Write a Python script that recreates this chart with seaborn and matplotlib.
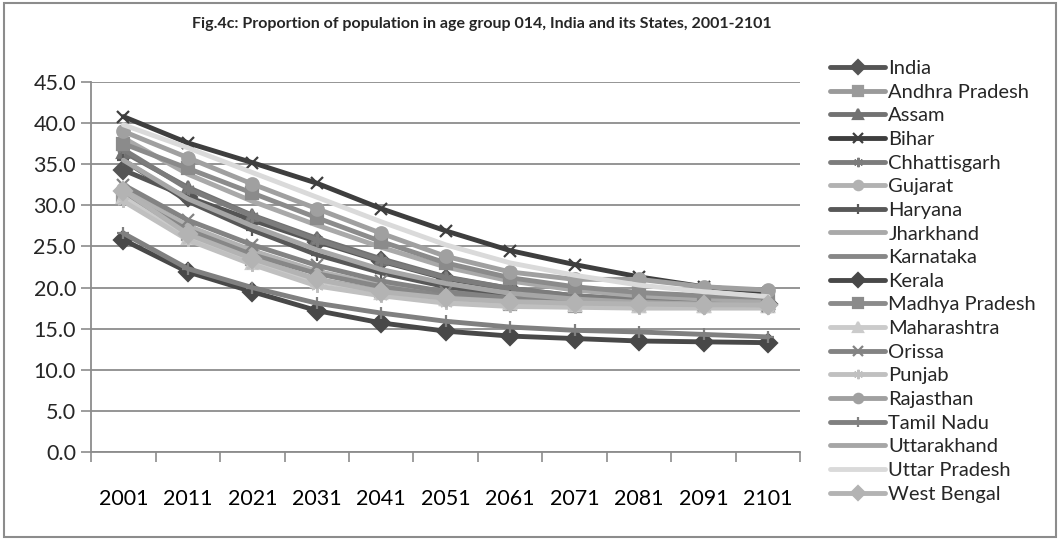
import matplotlib
matplotlib.use("Agg")
import matplotlib.pyplot as plt
import seaborn as sns
import pandas as pd
from matplotlib.patches import Rectangle
from matplotlib.ticker import FixedLocator, FormatStrFormatter

years = [2001, 2011, 2021, 2031, 2041, 2051, 2061, 2071, 2081, 2091, 2101]

states = ["India", "Andhra Pradesh", "Assam", "Bihar", "Chhattisgarh", "Gujarat",
          "Haryana", "Jharkhand", "Karnataka", "Kerala", "Madhya Pradesh",
          "Maharashtra", "Orissa", "Punjab", "Rajasthan", "Tamil Nadu",
          "Uttarakhand", "Uttar Pradesh", "West Bengal"]

india          = [34.3, 31.0, 28.2, 25.6, 23.2, 21.1, 19.8, 18.9, 18.4, 18.2, 18.0]
andhra_pradesh = [31.0, 26.5, 23.5, 21.0, 19.6, 18.6, 18.0, 17.8, 17.7, 17.7, 17.7]
assam          = [36.5, 32.2, 28.8, 26.0, 23.5, 21.3, 19.9, 19.0, 18.5, 18.3, 18.1]
bihar          = [40.8, 37.6, 35.2, 32.7, 29.6, 26.9, 24.5, 22.8, 21.3, 20.1, 19.4]
chhattisgarh   = [36.8, 32.0, 28.7, 25.8, 23.3, 21.2, 19.9, 19.0, 18.6, 18.3, 18.2]
gujarat        = [32.0, 27.5, 24.5, 22.0, 20.3, 19.2, 18.5, 18.1, 17.9, 17.8, 17.8]
haryana        = [35.5, 30.5, 27.0, 24.0, 21.8, 20.1, 19.0, 18.4, 18.1, 17.9, 17.8]
jharkhand      = [38.2, 33.8, 30.5, 27.6, 24.9, 22.5, 20.8, 19.7, 19.0, 18.6, 18.4]
karnataka      = [31.3, 27.0, 24.0, 21.7, 20.1, 19.0, 18.4, 18.1, 17.9, 17.8, 17.8]
kerala         = [25.8, 21.9, 19.5, 17.2, 15.7, 14.7, 14.1, 13.8, 13.5, 13.4, 13.3]
madhya_pradesh = [37.5, 34.5, 31.5, 28.5, 25.6, 23.0, 21.2, 20.1, 19.4, 19.0, 18.8]
maharashtra    = [31.0, 26.0, 23.0, 20.8, 19.4, 18.6, 18.1, 17.9, 17.8, 17.8, 17.8]
orissa         = [32.5, 28.2, 25.2, 22.7, 20.8, 19.5, 18.7, 18.3, 18.0, 17.9, 17.8]
punjab         = [30.5, 25.8, 22.8, 20.2, 19.0, 18.1, 17.7, 17.6, 17.5, 17.5, 17.5]
rajasthan      = [39.0, 35.8, 32.6, 29.6, 26.6, 23.8, 21.9, 21.0, 21.0, 20.1, 19.7]
tamil_nadu     = [26.6, 22.3, 20.0, 18.1, 16.9, 15.9, 15.2, 14.8, 14.6, 14.3, 14.0]
uttarakhand    = [35.5, 30.8, 27.5, 24.6, 22.2, 20.5, 19.3, 18.6, 18.2, 18.0, 17.9]
uttar_pradesh  = [39.8, 37.0, 34.0, 31.0, 28.0, 25.2, 23.0, 21.5, 20.3, 19.5, 18.9]
west_bengal    = [31.8, 26.5, 23.5, 21.0, 19.5, 18.7, 18.3, 18.1, 18.0, 17.9, 17.9]

series = [india, andhra_pradesh, assam, bihar, chhattisgarh, gujarat, haryana,
          jharkhand, karnataka, kerala, madhya_pradesh, maharashtra, orissa,
          punjab, rajasthan, tamil_nadu, uttarakhand, uttar_pradesh, west_bengal]

y_ticks = [0.0, 5.0, 10.0, 15.0, 20.0, 25.0, 30.0, 35.0, 40.0, 45.0]

# grey levels and marker shapes for each series, in legend order
asterisk = (6, 2, 0)
styles = {
    "India":          ("#555555", "D"),
    "Andhra Pradesh": ("#9a9a9a", "s"),
    "Assam":          ("#727272", "^"),
    "Bihar":          ("#3e3e3e", "x"),
    "Chhattisgarh":   ("#7c7c7c", asterisk),
    "Gujarat":        ("#b2b2b2", "o"),
    "Haryana":        ("#585858", "+"),
    "Jharkhand":      ("#a9a9a9", None),
    "Karnataka":      ("#878787", None),
    "Kerala":         ("#484848", "D"),
    "Madhya Pradesh": ("#8b8b8b", "s"),
    "Maharashtra":    ("#cbcbcb", "^"),
    "Orissa":         ("#838383", "x"),
    "Punjab":         ("#c0c0c0", asterisk),
    "Rajasthan":      ("#a0a0a0", "o"),
    "Tamil Nadu":     ("#808080", "+"),
    "Uttarakhand":    ("#a6a6a6", None),
    "Uttar Pradesh":  ("#dadada", None),
    "West Bengal":    ("#b3b3b3", "D"),
}

df = pd.DataFrame(
    [(s, y, v) for s, vals in zip(states, series) for y, v in zip(years, vals)],
    columns=["state", "year", "value"],
)

sns.set_theme(style="white")
plt.rcParams["font.family"] = ["Lato", "DejaVu Sans"]

fig = plt.figure(figsize=(10.6, 5.4), dpi=100)
ax = fig.add_axes([0.086, 0.163, 0.669, 0.685])

for state in states:
    color, marker = styles[state]
    sub = df[df["state"] == state]
    kw = dict(marker=marker, markersize=9, markeredgewidth=1.6,
              markerfacecolor=color, markeredgecolor=color) if marker else {}
    sns.lineplot(data=sub, x="year", y="value", ax=ax, color=color,
                 linewidth=3.5, label=state, solid_capstyle="round",
                 solid_joinstyle="round", **kw)

ax.set_xlim(1996, 2106)
ax.set_ylim(0, 45)
ax.set_xlabel("")
ax.set_ylabel("")

ax.set_xticks(years)
ax.set_xticklabels([str(y) for y in years])
ax.xaxis.set_minor_locator(FixedLocator([y - 5 for y in years] + [2106]))
ax.tick_params(axis="x", which="major", length=0, pad=27, labelsize=15.5,
               colors="#000000")
ax.tick_params(axis="x", which="minor", length=7, width=1.2, color="#8c8c8c",
               bottom=True, direction="out")
ax.set_yticks(y_ticks)
ax.yaxis.set_major_formatter(FormatStrFormatter("%.1f"))
ax.tick_params(axis="y", which="major", length=7, width=1.2, color="#8c8c8c",
               left=True, direction="out", labelsize=15.5, pad=4)

ax.grid(axis="y", color="#8c8c8c", linewidth=1.3)
ax.grid(axis="x", visible=False)
ax.set_axisbelow(True)
for side in ("top", "right"):
    ax.spines[side].set_visible(False)
for side in ("left", "bottom"):
    ax.spines[side].set_color("#8c8c8c")
    ax.spines[side].set_linewidth(1.3)

fig.text(0.455, 0.955, "Fig.4c: Proportion of population in age group 014, India and its States, 2001-2101",
         ha="center", va="center", fontsize=11.5, fontweight="bold")

ax.legend(loc="upper left", bbox_to_anchor=(0.783, 0.889),
          bbox_transform=fig.transFigure, frameon=False, fontsize=14.5,
          handlelength=2.75, handletextpad=0.15, labelspacing=0.325,
          borderaxespad=0, borderpad=0, markerscale=0.75)

fig.patches.append(Rectangle((0.004, 0.006), 0.992, 0.988, transform=fig.transFigure,
                             fill=False, edgecolor="#8c8c8c", linewidth=1.5))

fig.savefig("out.png", dpi=100, facecolor="white")
